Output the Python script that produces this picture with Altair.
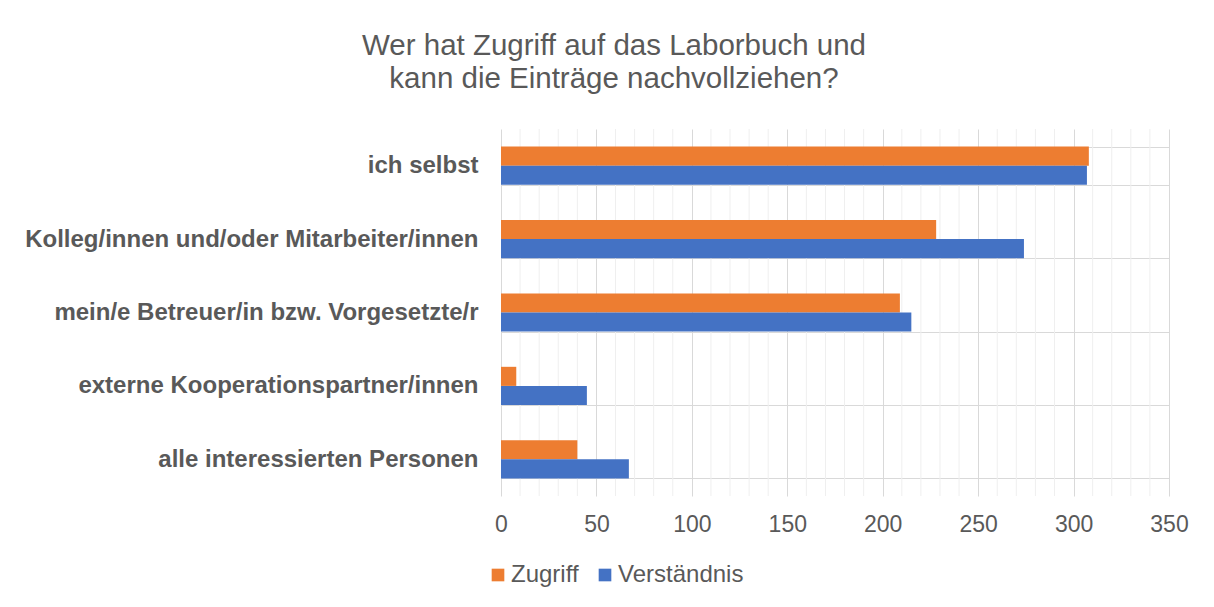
import altair as alt
import pandas as pd

categories = [
    "ich selbst",
    "Kolleg/innen und/oder Mitarbeiter/innen",
    "mein/e Betreuer/in bzw. Vorgesetzte/r",
    "externe Kooperationspartner/innen",
    "alle interessierten Personen",
]
series = ["Zugriff", "Verständnis"]
zugriff = [308, 228, 209, 8, 40]
verstaendnis = [307, 274, 215, 45, 67]
major_ticks = [0, 50, 100, 150, 200, 250, 300, 350]
minor_ticks = [v for v in range(10, 350, 10) if v % 50 != 0]
colors = ["#ED7D31", "#4472C4"]

rows = []
for c, z, v in zip(categories, zugriff, verstaendnis):
    rows.append({"Kategorie": c, "Serie": series[0], "Wert": z})
    rows.append({"Kategorie": c, "Serie": series[1], "Wert": v})
df = pd.DataFrame(rows)
minor_df = pd.DataFrame({"Wert": minor_ticks})

FONT = "Liberation Sans"
GREY = "#595959"

xscale = alt.Scale(domain=[0, 350], nice=False, zero=True)

minor = alt.Chart(minor_df).mark_rule(color="#efefef", strokeWidth=1).encode(
    x=alt.X("Wert:Q", scale=xscale)
)

bars = alt.Chart(df).mark_bar().encode(
    x=alt.X(
        "Wert:Q",
        scale=xscale,
        axis=alt.Axis(
            values=major_ticks,
            title=None,
            grid=True,
            gridColor="#d9d9d9",
            domain=False,
            ticks=False,
            labelFlush=False,
            labelPadding=17,
            labelFontSize=23,
            labelColor=GREY,
            labelFont=FONT,
        ),
    ),
    y=alt.Y(
        "Kategorie:N",
        sort=categories,
        scale=alt.Scale(paddingInner=0.48, paddingOuter=0.24),
        axis=alt.Axis(
            title=None,
            grid=True,
            gridColor="#d9d9d9",
            tickBand="extent",
            domain=False,
            ticks=False,
            labelPadding=23,
            labelFontSize=24,
            labelFontWeight="bold",
            labelColor=GREY,
            labelFont=FONT,
            labelLimit=700,
        ),
    ),
    yOffset=alt.YOffset("Serie:N", sort=series, scale=alt.Scale(paddingInner=0, paddingOuter=0)),
    color=alt.Color(
        "Serie:N",
        sort=series,
        scale=alt.Scale(domain=series, range=colors),
        legend=alt.Legend(
            title=None,
            orient="none",
            direction="horizontal",
            legendX=-15,
            legendY=434,
            symbolType="square",
            symbolSize=160,
            symbolStrokeWidth=0,
            labelFontSize=24,
            labelColor=GREY,
            labelFont=FONT,
            columnPadding=14,
            labelOffset=1,
        ),
    ),
)

chart = (
    alt.layer(minor, bars)
    .properties(
        width=668,
        height=367,
        padding={"left": 493, "top": 121, "right": 37, "bottom": 103},
        autosize=alt.AutoSizeParams(type="none"),
        title=alt.TitleParams(
            text=["Wer hat Zugriff auf das Laborbuch und", "kann die Einträge nachvollziehen?"],
            fontSize=29.5,
            fontWeight="normal",
            color=GREY,
            font=FONT,
            anchor="middle",
            dx=-221,
            offset=23,
            lineHeight=33,
        ),
    )
    .configure_view(stroke=None)
)

chart.save("out.html", embed_options={"renderer": "svg", "actions": False})
